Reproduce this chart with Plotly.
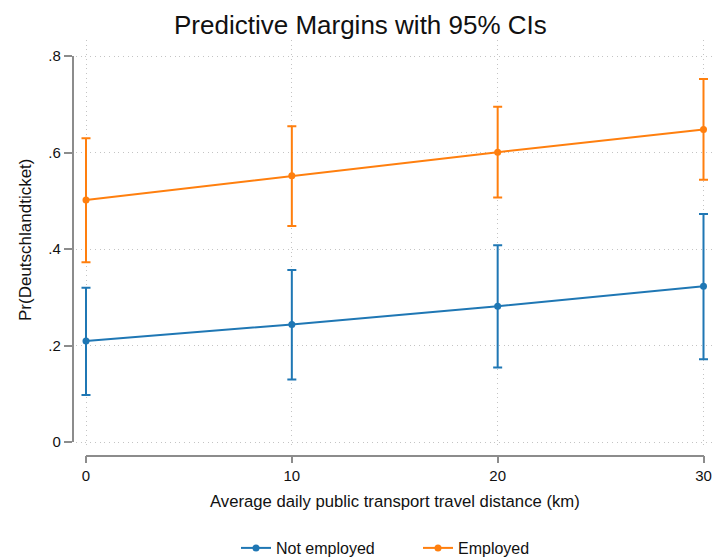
import plotly.graph_objects as go

# Predictive margins by average daily public transport distance
distance_km = [0, 10, 20, 30]

not_employed = [0.210, 0.244, 0.282, 0.323]
not_employed_lo = [0.098, 0.130, 0.155, 0.172]
not_employed_hi = [0.320, 0.357, 0.408, 0.473]

employed = [0.502, 0.552, 0.601, 0.648]
employed_lo = [0.373, 0.448, 0.507, 0.544]
employed_hi = [0.630, 0.655, 0.695, 0.753]

x_ticks = [0, 10, 20, 30]
y_ticks = [0, 0.2, 0.4, 0.6, 0.8]
y_tick_text = ["0", ".2", ".4", ".6", ".8"]

BLUE = "#1f77b4"
ORANGE = "#ff7f0e"
AXIS = "#8c8c8c"
GRID = "#c4c4c4"
FONT = "Liberation Sans, Arial, sans-serif"

W, H = 714, 559


def px_x(p):
    return p / W


def px_y(p):
    return (H - p) / H


# pixel geometry of the data frame
X0_PX, X30_PX = 86.0, 703.5
Y0_PX, Y08_PX = 442.2, 56.2
ux = (X30_PX - X0_PX) / 30.0
uy = (Y0_PX - Y08_PX) / 0.8

# plotting region (gridlines) slightly larger than the axis spans
L_PX, R_PX, T_PX, B_PX = 76.0, 712.0, 40.0, 446.0
x_range = [(L_PX - X0_PX) / ux, (R_PX - X0_PX) / ux]
y_range = [(Y0_PX - B_PX) / uy, (Y0_PX - T_PX) / uy]


def series(name, y, lo, hi, color):
    return go.Scatter(
        x=distance_km,
        y=y,
        name=name,
        mode="lines+markers",
        line=dict(color=color, width=2),
        marker=dict(color=color, size=7),
        error_y=dict(
            type="data",
            symmetric=False,
            array=[h - v for h, v in zip(hi, y)],
            arrayminus=[v - l for v, l in zip(y, lo)],
            color=color,
            thickness=2,
            width=4.5,
        ),
        xaxis="x",
        yaxis="y",
    )


fig = go.Figure()
fig.add_trace(series("Not employed", not_employed, not_employed_lo, not_employed_hi, BLUE))
fig.add_trace(series("Employed", employed, employed_lo, employed_hi, ORANGE))

# empty trace that carries the detached axis frame
fig.add_trace(go.Scatter(x=[], y=[], xaxis="x2", yaxis="y2",
                         showlegend=False, hoverinfo="skip"))

fig.update_layout(
    width=W,
    height=H,
    margin=dict(l=0, r=0, t=0, b=0, pad=0, autoexpand=False),
    paper_bgcolor="white",
    plot_bgcolor="rgba(0,0,0,0)",
    font=dict(family=FONT, size=15, color="#111111"),
    showlegend=True,
    xaxis=dict(
        domain=[px_x(L_PX), px_x(R_PX)],
        range=x_range,
        tickvals=x_ticks,
        showticklabels=False,
        ticks="",
        showline=False,
        zeroline=False,
        showgrid=True,
        gridcolor=GRID,
        griddash="1px,3.7px",
        gridwidth=1,
        anchor="y",
    ),
    yaxis=dict(
        domain=[px_y(B_PX), px_y(T_PX)],
        range=y_range,
        tickvals=y_ticks,
        showticklabels=False,
        ticks="",
        showline=False,
        zeroline=False,
        showgrid=True,
        gridcolor=GRID,
        griddash="1px,3.7px",
        gridwidth=1,
        anchor="x",
    ),
    xaxis2=dict(
        domain=[px_x(X0_PX), px_x(X30_PX)],
        range=[0, 30],
        anchor="free",
        position=px_y(455.5),
        tickvals=x_ticks,
        ticktext=[str(v) for v in x_ticks],
        ticks="outside",
        ticklen=7,
        tickwidth=1.5,
        tickcolor=AXIS,
        showline=True,
        linecolor=AXIS,
        linewidth=1.5,
        showgrid=False,
        zeroline=False,
        tickfont=dict(size=15),
    ),
    yaxis2=dict(
        domain=[px_y(Y0_PX), px_y(Y08_PX)],
        range=[0, 0.8],
        anchor="free",
        position=px_x(72.5),
        tickvals=y_ticks,
        ticktext=y_tick_text,
        ticks="outside",
        ticklen=8,
        tickwidth=1.5,
        tickcolor=AXIS,
        showline=True,
        linecolor=AXIS,
        linewidth=1.5,
        showgrid=False,
        zeroline=False,
        tickfont=dict(size=15),
    ),
    legend=dict(
        orientation="h",
        x=px_x(236),
        xanchor="left",
        y=px_y(548),
        yanchor="middle",
        font=dict(size=16),
        bgcolor="rgba(0,0,0,0)",
        entrywidth=137,
        entrywidthmode="pixels",
    ),
    annotations=[
        dict(text="Predictive Margins with 95% CIs", x=px_x(360.5), y=px_y(25),
             xref="paper", yref="paper", showarrow=False,
             font=dict(size=26), xanchor="center", yanchor="middle"),
        dict(text="Average daily public transport travel distance (km)",
             x=px_x(394.75), y=px_y(501), xref="paper", yref="paper",
             showarrow=False, font=dict(size=16.7),
             xanchor="center", yanchor="middle"),
        dict(text="Pr(Deutschlandticket)", x=px_x(25), y=px_y(240),
             xref="paper", yref="paper", showarrow=False, textangle=-90,
             font=dict(size=17), xanchor="center", yanchor="middle"),
    ],
)

fig.write_html("out.html")
